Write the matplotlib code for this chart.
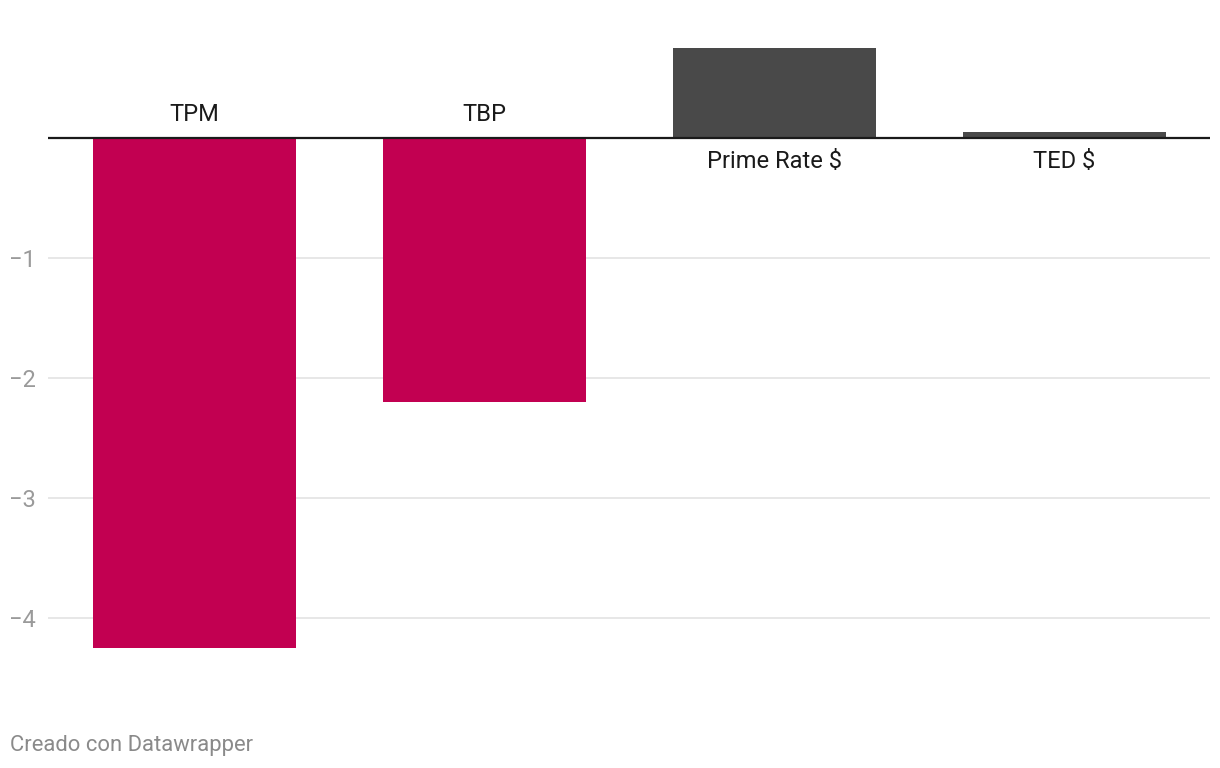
import matplotlib.pyplot as plt

plt.rcParams['font.family'] = ['Roboto', 'DejaVu Sans']

categories = ['TPM', 'TBP', 'Prime Rate $', 'TED $']
values = [-4.25, -2.2, 0.75, 0.05]
colors = ['#c20051', '#c20051', '#494949', '#494949']
ticks = [-4, -3, -2, -1]

W, H = 1220, 768
fig = plt.figure(figsize=(W / 100, H / 100), dpi=100)

ymin, ymax = -4.5, 0.9
zero_px = 137.7
unit_px = 120
top_px = zero_px - ymax * unit_px
bot_px = zero_px - ymin * unit_px
ax = fig.add_axes([48 / W, 1 - bot_px / H, (1210 - 48) / W, (bot_px - top_px) / H])

x = range(len(categories))
ax.bar(x, values, width=0.7, color=colors, zorder=2)
ax.axhline(0, color='#1a1a1a', lw=1.6, zorder=3)

# labels sit above the baseline for negative bars, below it for positive ones
for i, (lab, v) in enumerate(zip(categories, values)):
    yl = 0.19 if v < 0 else -0.2
    ax.text(i, yl, lab, ha='center', va='center', fontsize=17, color='#1a1a1a')

ax.set_xlim(-0.505, 3.502)
ax.set_ylim(ymin, ymax)
ax.set_yticks(ticks)
ax.set_yticklabels(['\u2212' + str(abs(t)) for t in ticks], fontsize=17, color='#9a9a9a')
ax.tick_params(axis='y', length=0, pad=9)
ax.set_xticks([])
ax.grid(axis='y', color='#e3e3e3', lw=1.2, zorder=0)
for s in ax.spines.values():
    s.set_visible(False)

fig.text(10 / W, 1 - 745 / H, 'Creado con Datawrapper', fontsize=15.8, color='#8a8a8a',
         ha='left', va='center')

fig.savefig('out.png', dpi=100, facecolor='white')
